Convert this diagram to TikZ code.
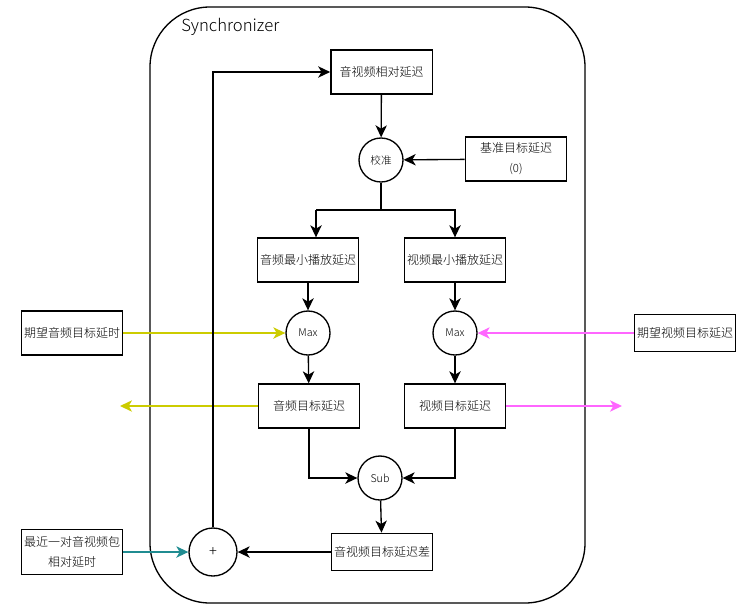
\documentclass[tikz,border=0pt]{standalone}
\usepackage{fontspec}
\setmainfont{Noto Sans CJK SC Light}
\usetikzlibrary{arrows.meta}
\definecolor{ylw}{RGB}{204,204,0}
\definecolor{pnk}{RGB}{255,102,255}
\definecolor{tea}{RGB}{32,140,145}
\tikzset{
  box/.style={draw, line width=1pt, minimum width=76pt, minimum height=33pt, inner sep=1pt, font=\fontsize{9}{12}\selectfont, align=center},
  circ/.style={draw, circle, line width=1pt, minimum size=33pt, inner sep=0pt, font=\fontsize{8}{10}\selectfont},
  conn/.style={line width=1pt, -{Stealth[length=9pt,width=8.5pt,inset=2.5pt]}},
  plain/.style={line width=1pt}
}
\begin{document}
\begin{tikzpicture}[x=0.75pt,y=-0.75pt]
\useasboundingbox (0,0) rectangle (755,607);
% container
\draw[line width=1pt, rounded corners=45pt] (150,7) rectangle (585,603);
\node[anchor=west, font=\fontsize{12.5}{14}\selectfont, inner sep=0pt] (title) at (181,27) {Synchronizer};

\node[box] (rel) at (381.5,72) {音视频相对延迟};
\node[circ] (cal) at (381,160) {校准};
\node[box, minimum height=33pt] (base) at (516,159) {基准目标延迟\\[3pt]{\fontsize{8.5}{10}\selectfont (0)}};
\node[box] (amin) at (308,260) {音频最小播放延迟};
\node[box] (vmin) at (455,260) {视频最小播放延迟};
\node[circ] (amax) at (308,333) {Max};
\node[circ] (vmax) at (455,333) {Max};
\node[box] (aexp) at (72,333) {期望音频目标延时};
\node[box, minimum height=28pt] (vexp) at (685,333) {期望视频目标延迟};
\node[box] (atgt) at (309,406) {音频目标延迟};
\node[box] (vtgt) at (455,406) {视频目标延迟};
\node[circ] (sub) at (380,478) {Sub};
\node[box, minimum height=28pt] (diff) at (382,552) {音视频目标延迟差};
\node[circ, minimum size=36pt, font=\fontsize{11}{12}\selectfont] (plus) at (213,552) {+};
\node[box, minimum height=34pt] (last) at (72,552) {最近一对音视频包\\[3pt]相对延时};

\coordinate (aout) at (120,406);
\coordinate (vout) at (622,406);
\coordinate (aj) at (316,210);
\coordinate (vj) at (455,210);

\draw[conn] (rel) -- (cal);
\draw[conn] (base) -- (cal);
\draw[plain] (cal.south) -- (cal.south |- aj) -- (aj);
\draw[conn] (cal.south |- aj) -- (vj) -- (vj |- vmin.north);
\draw[conn] (aj) -- (aj |- amin.north);
\draw[conn] (amin) -- (amax);
\draw[conn] (vmin) -- (vmax);
\draw[conn, ylw] (aexp.east) -- (amax.west);
\draw[conn, pnk] (vexp.west) -- (vmax.east);
\draw[conn] (amax) -- (atgt);
\draw[conn] (vmax) -- (vtgt);
\draw[conn, ylw] (atgt.west) -- (aout);
\draw[conn, pnk] (vtgt.east) -- (vout);
\draw[conn] (atgt.south) |- (sub.west);
\draw[conn] (vtgt.south) |- (sub.east);
\draw[conn] (sub) -- (diff);
\draw[conn] (diff.west) -- (plus.east);
\draw[conn, tea] (last.east) -- (plus.west);
\draw[conn] (plus.north) |- (rel.west);
\end{tikzpicture}
\end{document}
